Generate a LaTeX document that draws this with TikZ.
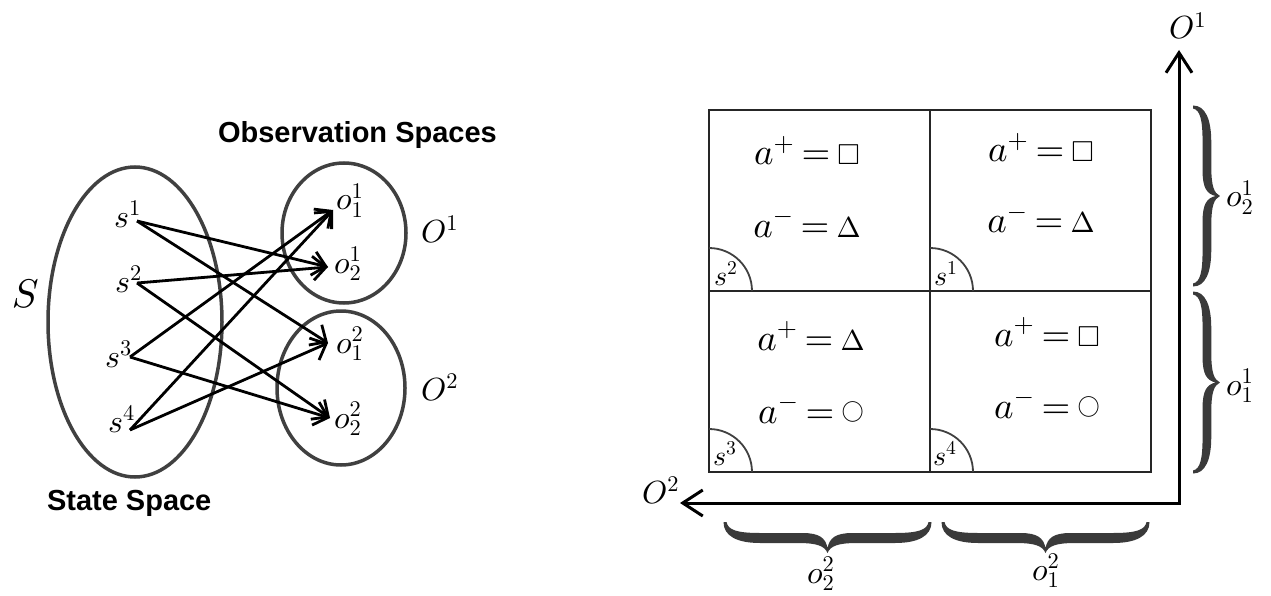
\documentclass[tikz,border=0pt]{standalone}
\usepackage{amssymb}
\usepackage{graphicx}
\usepackage[no-math]{fontspec}
\setsansfont{Liberation Sans}
\usetikzlibrary{arrows.meta,shapes.geometric}

% scalable math fonts for the large formula sizes
\DeclareFontShape{OML}{cmm}{m}{it}{<-7>cmmi5<7-10>cmmi7<10->cmmi10}{}
\DeclareFontShape{OMS}{cmsy}{m}{n}{<-7>cmsy5<7-10>cmsy7<10->cmsy10}{}
\DeclareFontShape{OT1}{cmr}{m}{n}{<-7>cmr5<7-10>cmr7<10->cmr10}{}

\definecolor{ringgray}{HTML}{404040}
\definecolor{bracegray}{HTML}{3A3A3A}

% symbols used for the actions
\newcommand\symsq{\mathord{\scalebox{0.78}{$\square$}}}
\newcommand\symtri{\mathord{\scalebox{0.78}{$\Delta$}}}
\newcommand\symcirc{\mathord{\raisebox{0.15em}{\scalebox{0.6}{$\bigcirc$}}}}
\newcommand\tightrel{\thickmuskip=3.5mu\relax}

% a filled curly brace of length #1, ends at v=0, tip at v=31
\newcommand\fillbrace[1]{%
  \pgfmathsetmacro\bL{#1}%
  \pgfmathsetmacro\bM{#1/2}%
  \fill[bracegray]
    (-1.5,0) -- (1.5,0)
    .. controls (3,8) and (12,11) .. (35,11)
    -- ({\bM-25},11)
    .. controls ({\bM-8},11) and ({\bM-2},16) .. (\bM,26)
    .. controls ({\bM+2},16) and ({\bM+8},11) .. ({\bM+25},11)
    -- ({\bL-35},11)
    .. controls ({\bL-12},11) and ({\bL-3},8) .. ({\bL-1.5},0)
    -- ({\bL+1.5},0)
    .. controls ({\bL+1.5},14) and ({\bL-12},21) .. ({\bL-35},21)
    -- ({\bM+30},21)
    .. controls ({\bM+10},21) and ({\bM+3},24) .. (\bM,31)
    .. controls ({\bM-3},24) and ({\bM-10},21) .. ({\bM-30},21)
    -- (35,21)
    .. controls (12,21) and (-1.5,14) .. (-1.5,0)
    -- cycle;
}

\begin{document}
\begin{tikzpicture}[x=1pt,y=-1pt,
  every node/.style={inner sep=0pt, outer sep=0pt},
  setring/.style={draw=ringgray, line width=3.5pt, ellipse},
  mapsto/.style={-{Straight Barb[length=13pt,width=24pt]}, line width=2.8pt},
  cell/.style={draw=black!85, line width=1.8pt, rectangle,
               minimum width=221pt, minimum height=181pt},
  cornerarc/.style={draw=ringgray, line width=1.8pt},
  axisline/.style={line width=3pt,
    {Straight Barb[length=20pt,width=26pt]}-{Straight Barb[length=20pt,width=26pt]}},
  elt/.style={font=\fontsize{32}{34}\selectfont, anchor=base west},
  small/.style={font=\fontsize{28}{30}\selectfont, anchor=base west},
  rule/.style={font=\fontsize{37}{40}\selectfont\tightrel, anchor=base},
  title/.style={font=\sffamily\bfseries\fontsize{29}{32}\selectfont, anchor=base west}
]
\useasboundingbox (0,0) rectangle (1271,596);

% ---------- state space and observation spaces ----------
\node[setring, minimum width=174pt, minimum height=310pt] (Sset) at (135,322) {};
\node[setring, minimum width=124pt, minimum height=140pt] (O1set) at (344,233) {};
\node[setring, minimum width=128pt, minimum height=154pt] (O2set) at (341,388) {};

\node[anchor=base west, font=\fontsize{40}{42}\selectfont] (Slab) at (12,307) {$S$};
\node[elt] (O1lab) at (421,242) {$O^1$};
\node[elt] (O2lab) at (421,400) {$O^2$};
\node[title] (obs) at (218,143) {Observation Spaces};
\node[title] (state) at (47,510) {State Space};

\node[elt] (s1) at (114,227) {$s^1$};
\node[elt] (s2) at (115,292) {$s^2$};
\node[elt] (s3) at (105,367) {$s^3$};
\node[elt] (s4) at (108,432) {$s^4$};

\node[elt] (o11) at (336,210) {$o^1_1$};
\node[elt] (o12) at (334,273) {$o^1_2$};
\node[elt] (o21) at (336,353) {$o^2_1$};
\node[elt] (o22) at (334,428) {$o^2_2$};

\coordinate (s1o) at (137,221);
\coordinate (s2o) at (137,283);
\coordinate (s3o) at (130,357);
\coordinate (s4o) at (130,430);
\coordinate (o11i) at (333,210);
\coordinate (o12i) at (328,267);
\coordinate (o21i) at (328,343);
\coordinate (o22i) at (330,418);

\draw[mapsto] (s1o) -- (o12i);
\draw[mapsto] (s1o) -- (o21i);
\draw[mapsto] (s2o) -- (o12i);
\draw[mapsto] (s2o) -- (o22i);
\draw[mapsto] (s3o) -- (o11i);
\draw[mapsto] (s3o) -- (o22i);
\draw[mapsto] (s4o) -- (o11i);
\draw[mapsto] (s4o) -- (o21i);

% ---------- grid of states ----------
\node[cell] (c2) at (819.5,200.5) {};
\node[cell] (c1) at (1040.5,200.5) {};
\node[cell] (c3) at (819.5,381.5) {};
\node[cell] (c4) at (1040.5,381.5) {};

\foreach \c in {c1,c2,c3,c4}
  \draw[cornerarc] (\c.south west) ++(43,0) arc[start angle=0, end angle=-90, radius=43];

\node[small] (k2) at (714,285) {$s^2$};
\node[small] (k1) at (934,285) {$s^1$};
\node[small] (k3) at (713,465) {$s^3$};
\node[small] (k4) at (933,465) {$s^4$};

\node[rule] (p2) at (807,165) {$a^+ = \symsq$};
\node[rule] (m2) at (807,237) {$a^- = \symtri$};
\node[rule] (p1) at (1041,162) {$a^+ = \symsq$};
\node[rule] (m1) at (1041,233) {$a^- = \symtri$};
\node[rule] (p3) at (811,350) {$a^+ = \symtri$};
\node[rule] (m3) at (811,423) {$a^- = \symcirc$};
\node[rule] (p4) at (1047,346) {$a^+ = \symsq$};
\node[rule] (m4) at (1047,418) {$a^- = \symcirc$};

% ---------- axes ----------
\coordinate (corner) at (1179,503);
\coordinate (ytip) at (1179,50);
\coordinate (xtip) at (680,503);
\draw[axisline, line join=miter] (xtip) -- (corner) -- (ytip);
\node[elt] (ax1) at (1169,39) {$O^1$};
\node[elt] (ax2) at (642,503) {$O^2$};

% ---------- braces ----------
\begin{scope}[shift={(725,522)}]
  \fillbrace{205}
\end{scope}
\begin{scope}[shift={(943,522)}]
  \fillbrace{205}
\end{scope}
\begin{scope}[shift={(1193,107)}, x={(0pt,-1pt)}, y={(0.87pt,0pt)}]
  \fillbrace{178}
\end{scope}
\begin{scope}[shift={(1193,293)}, x={(0pt,-1pt)}, y={(0.87pt,0pt)}]
  \fillbrace{179}
\end{scope}

\node[elt] (b22) at (807,583) {$o^2_2$};
\node[elt] (b21) at (1032,580) {$o^2_1$};
\node[elt] (b12) at (1226,207) {$o^1_2$};
\node[elt] (b11) at (1226,395) {$o^1_1$};
\end{tikzpicture}
\end{document}
